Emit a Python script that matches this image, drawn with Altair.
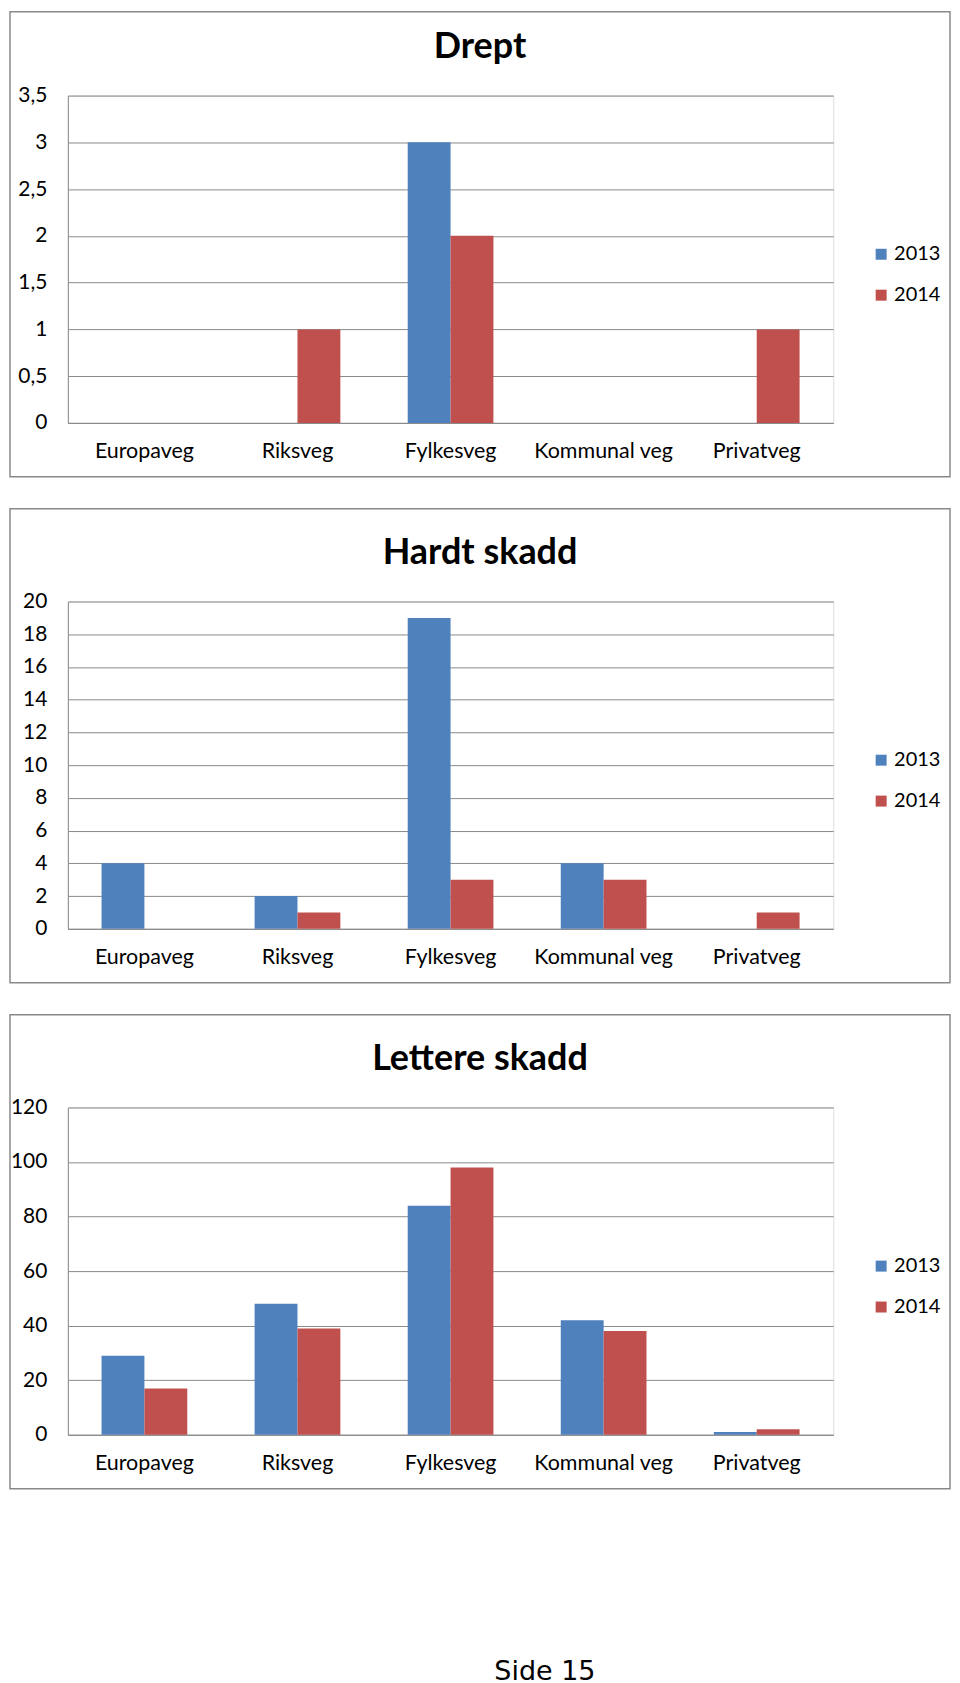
import altair as alt
import pandas as pd

categories = ["Europaveg", "Riksveg", "Fylkesveg", "Kommunal veg", "Privatveg"]
years = ["2013", "2014"]

drept_2013 = [0, 0, 3, 0, 0]
drept_2014 = [0, 1, 2, 0, 1]
hardt_2013 = [4, 2, 19, 4, 0]
hardt_2014 = [0, 1, 3, 3, 1]
lettere_2013 = [29, 48, 84, 42, 1]
lettere_2014 = [17, 39, 98, 38, 2]

titles = ["Drept", "Hardt skadd", "Lettere skadd"]
drept_ticks = [0, 0.5, 1, 1.5, 2, 2.5, 3, 3.5]
hardt_ticks = [0, 2, 4, 6, 8, 10, 12, 14, 16, 18, 20]
lettere_ticks = [0, 20, 40, 60, 80, 100, 120]
footer = "Side 15"

BLUE = "#4F81BD"
RED = "#C0504D"
GRID = "#8a8a8a"
FRAME = "#8a8a8a"
FONT = "Lato"
W, H = 767, 328


def panel(title, v13, v14, ticks, title_y=-38, frame_top=-93, footer_text=None):
    df = pd.DataFrame({
        "kategori": categories * 2,
        "aar": [years[0]] * len(categories) + [years[1]] * len(categories),
        "verdi": v13 + v14,
    })
    bars = alt.Chart(df).mark_bar().encode(
        x=alt.X(
            "kategori:N", sort=categories,
            scale=alt.Scale(paddingInner=0.44, paddingOuter=0.22),
            axis=alt.Axis(title=None, labelAngle=0, ticks=False, domainColor=GRID,
                          domainWidth=1, labelPadding=18, labelFontSize=21.5,
                          labelFont=FONT, labelColor="black", grid=False),
        ),
        xOffset=alt.XOffset("aar:N", sort=years,
                            scale=alt.Scale(paddingInner=0, paddingOuter=0)),
        y=alt.Y(
            "verdi:Q",
            scale=alt.Scale(domain=[ticks[0], ticks[-1]], nice=False),
            axis=alt.Axis(title=None, values=ticks, format=".1~f",
                          labelExpr="replace(datum.label, '.', ',')",
                          grid=True, gridColor=GRID, gridWidth=1, ticks=False,
                          domainColor=GRID, domainWidth=1, labelPadding=21,
                          labelFontSize=21, labelFont=FONT, labelColor="black"),
        ),
        color=alt.Color(
            "aar:N", scale=alt.Scale(domain=years, range=[BLUE, RED]),
            legend=alt.Legend(title=None, orient="none", legendX=805, legendY=149,
                              symbolType="square", symbolSize=121,
                              symbolStrokeWidth=0, labelFont=FONT,
                              labelFontSize=20, labelColor="black",
                              labelOffset=3, rowPadding=21),
        ),
    )
    frame = alt.Chart(pd.DataFrame({"f": [0]})).mark_rect(
        fillOpacity=0, stroke=FRAME, strokeWidth=1.5
    ).encode(x=alt.value(-58), x2=alt.value(884), y=alt.value(frame_top),
             y2=alt.value(382))
    ttl = alt.Chart(pd.DataFrame({"t": [title]})).mark_text(
        font=FONT, fontSize=36, fontWeight="bold", baseline="alphabetic",
        align="center", color="black"
    ).encode(x=alt.value(413), y=alt.value(title_y), text="t:N")
    layers = [frame, bars, ttl]
    if footer_text is not None:
        ft = alt.Chart(pd.DataFrame({"t": [footer_text]})).mark_text(
            font="DejaVu Sans", fontSize=27, baseline="alphabetic",
            align="center", color="black"
        ).encode(x=alt.value(478), y=alt.value(574), text="t:N")
        layers.append(ft)
    return alt.layer(*layers).properties(width=W, height=H)


c1 = panel(titles[0], drept_2013, drept_2014, drept_ticks, title_y=-38, frame_top=-84)
c2 = panel(titles[1], hardt_2013, hardt_2014, hardt_ticks, title_y=-38)
c3 = panel(titles[2], lettere_2013, lettere_2014, lettere_ticks, title_y=-38,
           footer_text=footer)

chart = alt.vconcat(c1, c2, c3, spacing=28).resolve_scale(
    color="independent"
).properties(
    padding={"left": 0, "top": 0, "right": 0, "bottom": 0}
).configure_view(stroke=None).configure(background="white")

chart.save("out.html", embed_options={"renderer": "svg", "actions": False})
